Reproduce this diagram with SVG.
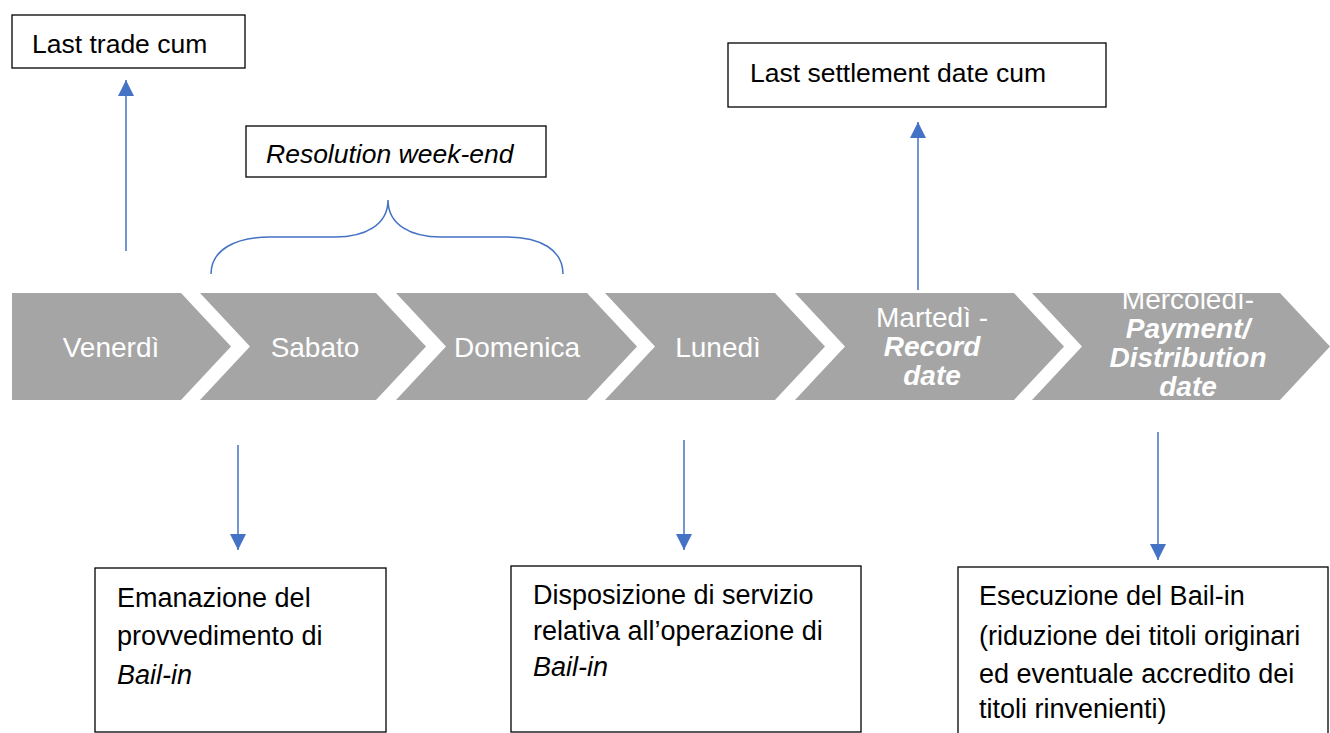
<svg xmlns="http://www.w3.org/2000/svg" width="1330" height="733" viewBox="0 0 1330 733">
<style>
.chev{fill:#A5A5A5}
.ct{font-family:"Liberation Sans",Arial,sans-serif;font-size:28px;fill:#fff;text-anchor:middle}
.bi{font-weight:bold;font-style:italic}
.box{fill:#fff;stroke:#000;stroke-width:1.3}
.bt{font-family:"Liberation Sans",Arial,sans-serif;font-size:26.5px;fill:#000}
.lg{font-size:27px}
.it{font-style:italic}
.conn{stroke:#4472C4;stroke-width:1.5;fill:none}
</style>
<defs>
<marker id="ah" viewBox="0 0 10 10" refX="10" refY="5" markerWidth="16" markerHeight="16" markerUnits="userSpaceOnUse" orient="auto">
<path d="M0,0 L10,5 L0,10 z" fill="#4472C4"/>
</marker>
<clipPath id="clipMer"><polygon points="1032,293 1280,293 1330,346.5 1280,400 1032,400 1082,346.5"/></clipPath>
<clipPath id="clipMar"><polygon points="795,293 1014,293 1064,346.5 1014,400 795,400 845,346.5"/></clipPath>
</defs>
<rect width="1330" height="733" fill="#fff"/>

<g id="venerdi">
<polygon class="chev" points="12,293 181,293 231,346.5 181,400 12,400"/>
<text class="ct" x="111" y="357">Venerdì</text>
</g>
<g id="sabato">
<polygon class="chev" points="200,293 376,293 426,346.5 376,400 200,400 250,346.5"/>
<text class="ct" x="315" y="357">Sabato</text>
</g>
<g id="domenica">
<polygon class="chev" points="396,293 587,293 637,346.5 587,400 396,400 446,346.5"/>
<text class="ct" x="517" y="357">Domenica</text>
</g>
<g id="lunedi">
<polygon class="chev" points="605,293 775,293 825,346.5 775,400 605,400 655,346.5"/>
<text class="ct" x="718" y="357">Lunedì</text>
</g>
<g id="martedi">
<polygon class="chev" points="795,293 1014,293 1064,346.5 1014,400 795,400 845,346.5"/>
<g clip-path="url(#clipMar)">
<text class="ct" x="932" y="327">Martedì -</text>
<text class="ct bi" x="932" y="356">Record</text>
<text class="ct bi" x="932" y="385">date</text>
</g>
</g>
<g id="mercoledi">
<polygon class="chev" points="1032,293 1280,293 1330,346.5 1280,400 1032,400 1082,346.5"/>
<g clip-path="url(#clipMer)">
<text class="ct" x="1188" y="309">Mercoledì-</text>
<text class="ct bi" x="1188" y="338">Payment/</text>
<text class="ct bi" x="1188" y="367">Distribution</text>
<text class="ct bi" x="1188" y="396">date</text>
</g>
</g>

<g id="last-trade-cum">
<rect class="box" x="12" y="15" width="233" height="53"/>
<text class="bt" x="32" y="53">Last trade cum</text>
</g>
<g id="resolution-week-end">
<rect class="box" x="246" y="126" width="300" height="51"/>
<text class="bt it" x="266" y="163">Resolution week-end</text>
</g>
<g id="last-settlement-date-cum">
<rect class="box" x="728" y="43" width="378" height="64"/>
<text class="bt" x="750" y="82">Last settlement date cum</text>
</g>
<g id="emanazione">
<rect class="box" x="95" y="568" width="291" height="164"/>
<text class="bt lg" x="117" y="607">Emanazione del</text>
<text class="bt lg" x="117" y="645">provvedimento di</text>
<text class="bt lg it" x="117" y="684">Bail-in</text>
</g>
<g id="disposizione">
<rect class="box" x="511" y="566" width="350" height="166"/>
<text class="bt lg" x="533" y="604">Disposizione di servizio</text>
<text class="bt lg" x="533" y="640">relativa all’operazione di</text>
<text class="bt lg it" x="533" y="676">Bail-in</text>
</g>
<g id="esecuzione">
<rect class="box" x="958" y="567" width="370" height="200"/>
<text class="bt lg" x="979" y="605">Esecuzione del Bail-in</text>
<text class="bt lg" x="979" y="645">(riduzione dei titoli originari</text>
<text class="bt lg" x="979" y="683">ed eventuale accredito dei</text>
<text class="bt lg" x="979" y="718">titoli rinvenienti)</text>
</g>

<g id="connectors">
<line class="conn" x1="126" y1="251" x2="126" y2="80" marker-end="url(#ah)"/>
<line class="conn" x1="918" y1="290" x2="918" y2="122" marker-end="url(#ah)"/>
<line class="conn" x1="238" y1="445" x2="238" y2="550" marker-end="url(#ah)"/>
<line class="conn" x1="684" y1="440" x2="684" y2="550" marker-end="url(#ah)"/>
<line class="conn" x1="1158" y1="432" x2="1158" y2="560" marker-end="url(#ah)"/>
<path class="conn" d="M211,274 C211,250 235,237 270,237 L335,237 C365,237 388,225 388,200 C388,225 411,237 441,237 L506,237 C541,237 563,250 563,274"/>
</g>
</svg>
